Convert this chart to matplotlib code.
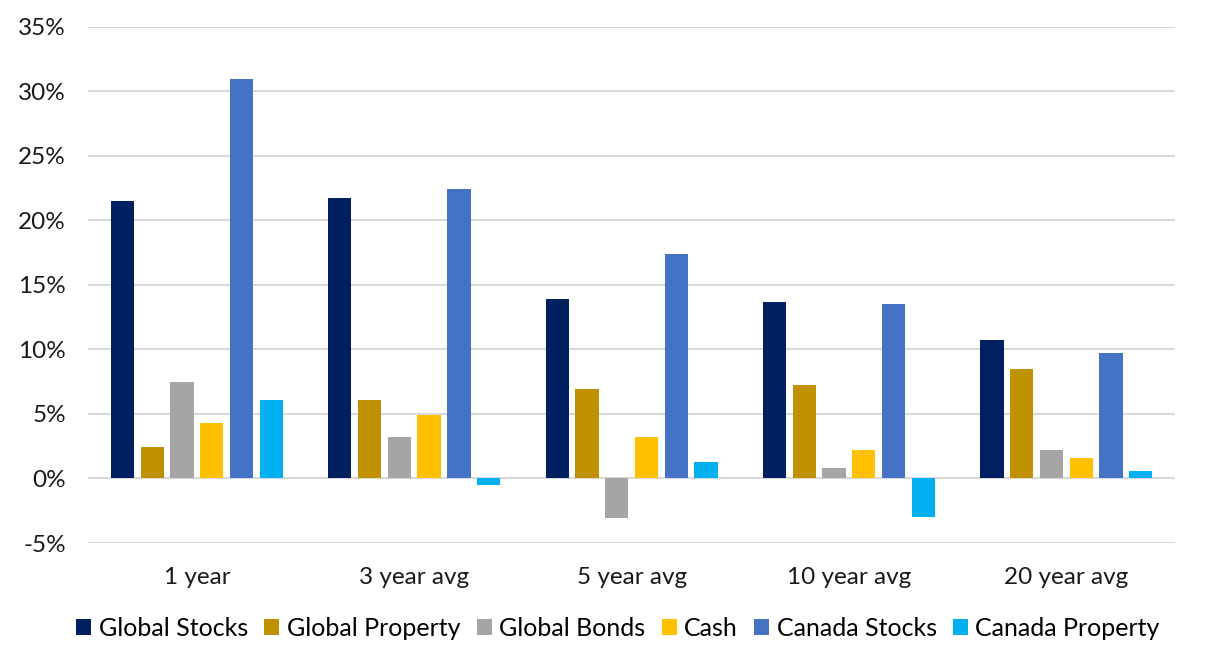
import matplotlib
matplotlib.use("Agg")
import matplotlib.pyplot as plt
import numpy as np

categories = ["1 year", "3 year avg", "5 year avg", "10 year avg", "20 year avg"]
series_names = ["Global Stocks", "Global Property", "Global Bonds", "Cash", "Canada Stocks", "Canada Property"]
global_stocks = [21.5, 21.7, 13.9, 13.7, 10.7]
global_property = [2.4, 6.1, 6.9, 7.2, 8.5]
global_bonds = [7.5, 3.2, -3.1, 0.8, 2.2]
cash = [4.3, 4.9, 3.2, 2.2, 1.6]
canada_stocks = [30.9, 22.4, 17.4, 13.5, 9.7]
canada_property = [6.1, -0.5, 1.3, -3.0, 0.6]
yticks = [-5, 0, 5, 10, 15, 20, 25, 30, 35]
ytick_labels = ["-5%", "0%", "5%", "10%", "15%", "20%", "25%", "30%", "35%"]

series = [global_stocks, global_property, global_bonds, cash, canada_stocks, canada_property]
colors = ["#002060", "#BF9000", "#A5A5A5", "#FFC000", "#4472C4", "#00B0F0"]

plt.rcParams['font.family'] = ['Lato', 'DejaVu Sans']
fig = plt.figure(figsize=(12.24, 6.64), dpi=100)
ax = fig.add_axes([0.0720, 0.1822, 0.8880, 0.7778])

x = np.arange(len(categories))
step = 0.137
width = 0.107
n = len(series)
for i, (vals, c, name) in enumerate(zip(series, colors, series_names)):
    off = (i - (n - 1) / 2) * step
    ax.bar(x + off, vals, width=width, color=c, label=name, zorder=3)

ax.set_xlim(-0.5, len(categories) - 0.5)
ax.set_ylim(-5, 35)
ax.set_yticks(yticks)
ax.set_yticklabels(ytick_labels)
ax.set_xticks(x)
ax.set_xticklabels(categories)
ax.yaxis.grid(True, color="#D9D9D9", linewidth=1.5, zorder=0)
ax.set_axisbelow(True)
for s in ax.spines.values():
    s.set_visible(False)
ax.tick_params(axis='both', length=0, labelsize=17.5, colors="#1a1a1a")
ax.tick_params(axis='y', pad=16)
ax.tick_params(axis='x', pad=17)

handles, labels = ax.get_legend_handles_labels()
fig.legend(handles, labels, loc='center', bbox_to_anchor=(0.505, 0.054), ncol=6,
           frameon=False, fontsize=18, handlelength=0.6, handleheight=0.6,
           handletextpad=0.3, columnspacing=0.65)

fig.savefig("out.png", dpi=100)
